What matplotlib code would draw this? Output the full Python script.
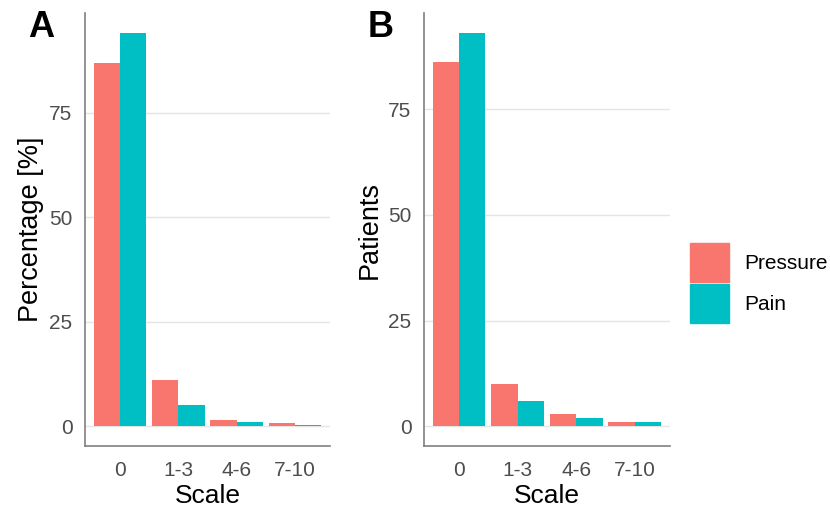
import matplotlib
matplotlib.use("Agg")
import matplotlib.pyplot as plt
from matplotlib.patches import Patch
import numpy as np

categories = ['0', '1-3', '4-6', '7-10']
pct_pressure = [87.0, 11.0, 1.4, 0.7]
pct_pain = [94.1, 5.1, 1.0, 0.3]
pat_pressure = [86, 10, 3, 1]
pat_pain = [93, 6, 2, 1]

col_pressure = '#F8766D'
col_pain = '#00BFC4'

plt.rcParams['font.family'] = ['Liberation Sans', 'DejaVu Sans']

fig = plt.figure(figsize=(8.3, 5.08), dpi=100)

def panel(rect, pressure, pain, ylabel, letter, lx):
    ax = fig.add_axes(rect)
    x = np.arange(1, len(categories) + 1)
    w = 0.45
    ax.bar(x - w / 2, pressure, w, color=col_pressure, zorder=3)
    ax.bar(x + w / 2, pain, w, color=col_pain, zorder=3)
    top = max(max(pressure), max(pain))
    ax.set_ylim(-0.05 * top, top * 1.05)
    ax.set_xlim(0.4, len(categories) + 0.6)
    ax.set_xticks(x)
    ax.set_xticklabels(categories)
    ax.set_yticks([0, 25, 50, 75])
    ax.tick_params(length=0, labelsize=15, labelcolor='#4D4D4D')
    ax.tick_params(axis='x', pad=10.5)
    ax.tick_params(axis='y', pad=9)
    ax.grid(axis='y', color='#E5E5E5', lw=1, zorder=0)
    for s in ['top', 'right']:
        ax.spines[s].set_visible(False)
    for s in ['left', 'bottom']:
        ax.spines[s].set_color('#808080')
        ax.spines[s].set_linewidth(1.2)
    ax.set_xlabel('Scale', fontsize=19, labelpad=3)
    ax.set_ylabel(ylabel, fontsize=19.5, labelpad=4)
    fig.text(lx, 1 - 37 / 508, letter, fontsize=26, fontweight='bold', ha='left', va='baseline')
    return ax

panel([0.1024, 0.122, 0.2952, 0.852], pct_pressure, pct_pain, 'Percentage [%]', 'A', 0.0337)
panel([0.5108, 0.122, 0.2964, 0.852], pat_pressure, pat_pain, 'Patients', 'B', 0.4428)

handles = [Patch(color=col_pressure, label='Pressure'), Patch(color=col_pain, label='Pain')]
fig.legend(handles=handles, loc='upper left', bbox_to_anchor=(690 / 830, 1 - 243 / 508),
           frameon=False, fontsize=15, handlelength=1.87, handleheight=2.5,
           labelspacing=0.1, borderpad=0, borderaxespad=0, handletextpad=0.72)

fig.savefig('out.png', dpi=100)
